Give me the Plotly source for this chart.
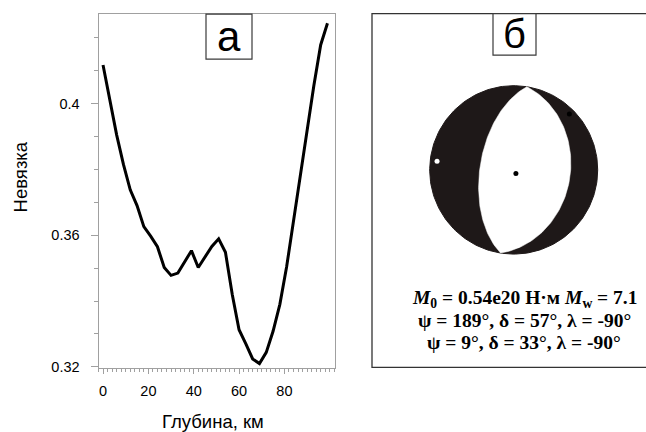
import numpy as np
import plotly.graph_objects as go

# ---------------- data ----------------
DEPTH_KM = list(range(0, 100, 3))
MISFIT = [0.4117, 0.4012, 0.3905, 0.3815, 0.3738, 0.3690, 0.3626, 0.3597,
          0.3565, 0.3502, 0.3478, 0.3485, 0.3520, 0.3553, 0.3502, 0.3532,
          0.3566, 0.3589, 0.3548, 0.3420, 0.3313, 0.3270, 0.3224, 0.3210,
          0.3244, 0.3308, 0.3390, 0.3505, 0.3640, 0.3790, 0.3920, 0.4055,
          0.4178, 0.4244]
Y_TICKS = [0.32, 0.36, 0.40]
Y_TICK_TEXT = ["0.32", "0.36", "0.4"]
X_TICKS = [0, 20, 40, 60, 80]

# focal mechanism (nodal planes) and principal-axis dots
STRIKES = [189, 9]
DIPS = [57, 33]
RAKES = [-90, -90]
AXIS_TREND = [276.5, 148, 45]
AXIS_PLUNGE = [9, 86, 7]
AXIS_COLOR = ["white", "black", "black"]
M0 = "0.54e20"
MW = 7.1

# ---------------- layout (design pixels of the 646x432 picture) ----------------
W, H = 646, 432
FIG_H = 440          # page is photographed over 440 px and scaled to 432
PLOT_L, PLOT_R, PLOT_T, PLOT_B = 98.5, 334.5, 14, 367
CX, CY, R = 513.7, 169.5, 84.0


def project(trend, plunge):
    """Lower-hemisphere equal-area projection to design pixels."""
    t = np.radians(trend)
    r = np.sqrt(2) * np.sin(np.radians(90 - plunge) / 2) * R
    return CX + r * np.sin(t), CY - r * np.cos(t)


def plane_arc(strike, dip, n=90):
    s, d = np.radians(strike), np.radians(dip)
    a = np.linspace(0, np.pi, n)
    sv = np.array([np.sin(s), np.cos(s), 0.0])
    dv = np.array([np.sin(s + np.pi / 2) * np.cos(d), np.cos(s + np.pi / 2) * np.cos(d), np.sin(d)])
    L = np.outer(np.cos(a), sv) + np.outer(np.sin(a), dv)
    plunge = np.degrees(np.arcsin(np.clip(L[:, 2], -1, 1)))
    trend = np.degrees(np.arctan2(L[:, 0], L[:, 1]))
    return project(trend, plunge)


fig = go.Figure()

# misfit curve
fig.add_trace(go.Scatter(x=DEPTH_KM, y=MISFIT, mode="lines",
                         line=dict(color="black", width=3), showlegend=False,
                         hoverinfo="skip"))

# beach ball: dark disc
th = np.linspace(0, 2 * np.pi, 200)
fig.add_trace(go.Scatter(x=CX + R * np.cos(th), y=CY + R * np.sin(th), mode="lines",
                         fill="toself", fillcolor="#1e1818", line=dict(color="#1e1818", width=1),
                         xaxis="x2", yaxis="y2", showlegend=False, hoverinfo="skip"))
# white lens between the nodal planes
x1, y1 = plane_arc(STRIKES[0], DIPS[0])
x2, y2 = plane_arc(STRIKES[1], DIPS[1])
fig.add_trace(go.Scatter(x=np.concatenate([x1, x2]), y=np.concatenate([y1, y2]), mode="lines",
                         fill="toself", fillcolor="white", line=dict(color="white", width=0.5),
                         xaxis="x2", yaxis="y2", showlegend=False, hoverinfo="skip"))
# axis dots
dx, dy = project(np.array(AXIS_TREND), np.array(AXIS_PLUNGE))
fig.add_trace(go.Scatter(x=dx, y=dy, mode="markers",
                         marker=dict(size=5, color=AXIS_COLOR, line=dict(width=0)),
                         xaxis="x2", yaxis="y2", showlegend=False, hoverinfo="skip"))

grey = "#a0a0a0"
fig.update_layout(
    width=W, height=FIG_H, margin=dict(l=0, r=0, t=0, b=0),
    paper_bgcolor="white", plot_bgcolor="rgba(0,0,0,0)",
    font=dict(family="Liberation Sans, Arial, sans-serif", color="black"),
    xaxis=dict(domain=[PLOT_L / W, PLOT_R / W], range=[-2.0, 102.1],
               tickvals=X_TICKS, ticks="outside", ticklen=5, tickcolor=grey, tickwidth=1,
               minor=dict(dtick=2, tick0=0, ticks="outside", ticklen=3, tickcolor=grey),
               showline=True, linecolor=grey, linewidth=1, mirror=True,
               showgrid=False, zeroline=False, tickfont=dict(size=14.5),
               ticklabelstandoff=5),
    yaxis=dict(domain=[1 - PLOT_B / H, 1 - PLOT_T / H], range=[0.3197, 0.4272],
               tickvals=Y_TICKS, ticktext=Y_TICK_TEXT, ticks="outside", ticklen=7,
               tickcolor=grey, tickwidth=1,
               minor=dict(dtick=0.01, tick0=0.32, ticks="outside", ticklen=4, tickcolor=grey),
               showline=True, linecolor=grey, linewidth=1, mirror=True,
               showgrid=False, zeroline=False, tickfont=dict(size=14.5),
               ticklabelstandoff=8),
    xaxis2=dict(domain=[0, 1], range=[0, W], visible=False, anchor="y2"),
    yaxis2=dict(domain=[0, 1], range=[H, 0], visible=False, anchor="x2"),
)

shapes = [
    # panel a label box
    dict(type="rect", xref="x2", yref="y2", x0=206, x1=252, y0=14, y1=59,
         line=dict(color="#3a3a3a", width=1.2), fillcolor="white"),
    # panel b frame
    dict(type="rect", xref="x2", yref="y2", x0=372, x1=660, y0=13.5, y1=366.5,
         line=dict(color="#333333", width=1.3)),
    # panel b label box
    dict(type="rect", xref="x2", yref="y2", x0=493, x1=536, y0=13.5, y1=55,
         line=dict(color="#3a3a3a", width=1.2), fillcolor="white"),
]
fig.update_layout(shapes=shapes)

narrow = "Liberation Sans Narrow, Arial Narrow, Liberation Sans, sans-serif"
serif = "Liberation Serif, Times New Roman, serif"
ann = [
    dict(x=229, y=36, text="а", font=dict(family=narrow, size=42)),
    dict(x=514.5, y=34, text="б", font=dict(family=narrow, size=40)),
    dict(x=213, y=421, text="Глубина, км", font=dict(size=18.5)),
    dict(x=20, y=177, text="Невязка", textangle=-90, font=dict(size=18.5)),
    dict(x=524, y=298, text=f"<b><i>M</i><sub>0</sub> = {M0} Н·м <i>M</i><sub>w</sub> = {MW}</b>",
         font=dict(family=serif, size=19.5)),
    dict(x=524, y=320, text=f"<b>ψ = {STRIKES[0]}°, δ = {DIPS[0]}°, λ = {RAKES[0]}°</b>",
         font=dict(family=serif, size=19.5)),
    dict(x=524, y=342, text=f"<b>ψ = {STRIKES[1]}°, δ = {DIPS[1]}°, λ = {RAKES[1]}°</b>",
         font=dict(family=serif, size=19.5)),
]
for a in ann:
    a.update(xref="x2", yref="y2", showarrow=False, xanchor="center", yanchor="middle")
fig.update_layout(annotations=ann)

fig.write_html(
    "out.html",
    config={"displayModeBar": False},
    post_script=(
        "document.documentElement.style.overflow='hidden';"
        "document.body.style.overflow='hidden';"
        "document.body.style.margin='0';"
    ),
)
